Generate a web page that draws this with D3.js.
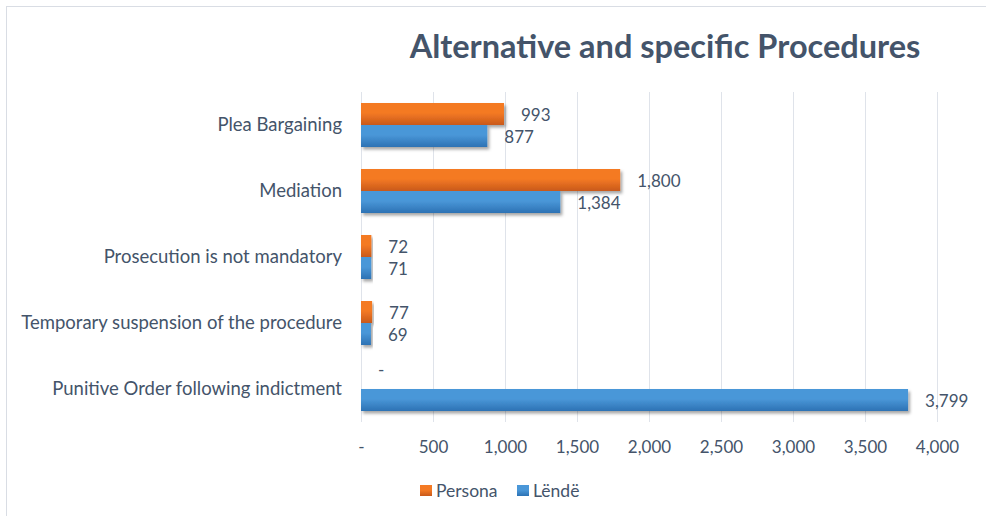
<!DOCTYPE html>
<html>
<head>
<meta charset="utf-8">
<script src="https://cdn.jsdelivr.net/npm/d3@7"></script>
<style>
  body { margin: 0; background: #fff; }
  svg { display: block; font-family: Lato, "Open Sans", sans-serif; }
</style>
</head>
<body>
<div id="chart"></div>
<script>
// data
var categories = [
  "Plea Bargaining",
  "Mediation",
  "Prosecution is not mandatory",
  "Temporary suspension of the procedure",
  "Punitive Order following indictment"
];
var persona = [993, 1800, 72, 77, 0];
var lende = [877, 1384, 71, 69, 3799];
var seriesNames = ["Persona", "Lëndë"];
var xTicks = [0, 500, 1000, 1500, 2000, 2500, 3000, 3500, 4000];

(function() {
  var width = 986, height = 516;
  var plotLeft = 361, plotRight = 937, plotTop = 92, plotBottom = 422;
  var textCol = "#44546a";

  var fmt = function(v) { return v === 0 ? "-" : d3.format(",")(v); };

  var svg = d3.select("#chart").append("svg")
    .attr("width", width).attr("height", height);

  var defs = svg.append("defs");
  var grads = [["gOrange", "#f47a24", "#c9591a"], ["gBlue", "#4a97d8", "#2c72b4"]];
  grads.forEach(function(g) {
    var lg = defs.append("linearGradient").attr("id", g[0])
      .attr("x1", 0).attr("y1", 0).attr("x2", 0).attr("y2", 1);
    lg.append("stop").attr("offset", "0%").attr("stop-color", g[1]);
    lg.append("stop").attr("offset", "45%").attr("stop-color", g[1]);
    lg.append("stop").attr("offset", "100%").attr("stop-color", g[2]);
  });
  defs.append("filter").attr("id", "shadow")
    .attr("x", "-5%").attr("y", "-20%").attr("width", "120%").attr("height", "160%")
    .append("feDropShadow").attr("dx", 2).attr("dy", 2.5)
    .attr("stdDeviation", 1.5).attr("flood-color", "#000").attr("flood-opacity", 0.35);

  // chart border
  svg.append("rect").attr("x", 6.5).attr("y", 6.5).attr("width", 1000).attr("height", 540)
    .attr("fill", "none").attr("stroke", "#d9dde4");

  svg.append("text").attr("x", 665).attr("y", 58)
    .attr("text-anchor", "middle")
    .attr("font-size", 32.5).attr("font-weight", "bold")
    .attr("fill", textCol)
    .text("Alternative and specific Procedures");

  var x = d3.scaleLinear().domain([0, 4000]).range([plotLeft, plotRight]);
  var y = d3.scaleBand().domain(categories).range([plotTop, plotBottom])
    .paddingInner(1 / 3).paddingOuter(1 / 6);
  var inner = d3.scaleBand().domain(seriesNames).range([0, y.bandwidth()]);

  // gridlines
  svg.append("g").selectAll("line").data(xTicks).enter().append("line")
    .attr("x1", function(d) { return Math.round(x(d)) + 0.5; })
    .attr("x2", function(d) { return Math.round(x(d)) + 0.5; })
    .attr("y1", plotTop).attr("y2", plotBottom)
    .attr("stroke", "#dfe3ea").attr("stroke-width", 1);

  var xAxis = svg.append("g").attr("transform", "translate(0," + 447 + ")")
    .call(d3.axisBottom(x).tickValues(xTicks).tickFormat(fmt).tickSize(0));
  xAxis.select(".domain").remove();
  xAxis.selectAll("text").attr("y", 0).attr("dy", "0.35em")
    .attr("font-size", 17).attr("fill", textCol)
    .attr("font-family", "Lato, sans-serif");

  var yAxis = svg.append("g").attr("transform", "translate(" + (plotLeft - 19) + ",0)")
    .call(d3.axisLeft(y).tickSize(0));
  yAxis.select(".domain").remove();
  yAxis.selectAll("text").attr("x", 0).attr("font-size", 18.5).attr("fill", textCol)
    .attr("font-family", "Lato, sans-serif").attr("dy", "0.35em");

  var flat = [];
  categories.forEach(function(c, i) {
    flat.push({ cat: c, s: "Persona", v: persona[i], fill: "url(#gOrange)" });
    flat.push({ cat: c, s: "Lëndë", v: lende[i], fill: "url(#gBlue)" });
  });

  svg.append("g").selectAll("rect").data(flat).enter().append("rect")
    .attr("x", x(0))
    .attr("y", function(d) { return y(d.cat) + inner(d.s); })
    .attr("width", function(d) { return x(d.v) - x(0); })
    .attr("height", inner.bandwidth())
    .attr("fill", function(d) { return d.fill; })
    .attr("filter", function(d) { return d.v > 0 ? "url(#shadow)" : null; });

  svg.append("g").selectAll("text").data(flat).enter().append("text")
    .attr("x", function(d) { return x(d.v) + 17; })
    .attr("y", function(d) {
      return y(d.cat) + inner(d.s) + inner.bandwidth() / 2 + (d.v === 0 ? -8 : 1);
    })
    .attr("dy", "0.35em")
    .attr("font-size", 17).attr("fill", textCol)
    .text(function(d) { return fmt(d.v); });

  // legend
  var legend = svg.append("g").attr("transform", "translate(420,491)");
  var legItems = [["Persona", "url(#gOrange)", 0], ["Lëndë", "url(#gBlue)", 97]];
  legItems.forEach(function(l) {
    legend.append("rect").attr("x", l[2]).attr("y", -6).attr("width", 12).attr("height", 11)
      .attr("fill", l[1]);
    legend.append("text").attr("x", l[2] + 16).attr("y", 0).attr("dy", "0.35em")
      .attr("font-size", 17.5).attr("fill", textCol).text(l[0]);
  });
})();
</script>
</body>
</html>
